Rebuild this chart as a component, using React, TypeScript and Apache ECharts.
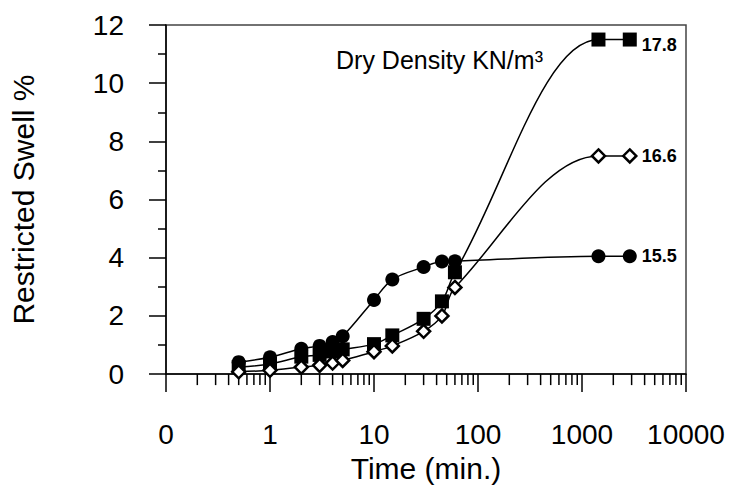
import React, { useEffect, useRef } from "react";
import * as echarts from "echarts";

const times = [0.5, 1, 2, 3, 4, 5, 10, 15, 30, 45, 60, 1440, 2880];
const swell155 = [0.41, 0.58, 0.87, 0.97, 1.1, 1.3, 2.55, 3.25, 3.68, 3.87, 3.88, 4.05, 4.05];
const swell166 = [0.08, 0.13, 0.24, 0.3, 0.38, 0.47, 0.77, 0.97, 1.47, 2.0, 2.98, 7.5, 7.5];
const swell178 = [0.24, 0.35, 0.6, 0.66, 0.78, 0.85, 1.03, 1.33, 1.9, 2.5, 3.5, 11.5, 11.5];
const densityLabels = ["15.5", "16.6", "17.8"];
const xDecades = [0.1, 1, 10, 100, 1000];
const minorMultipliers = [2, 3, 4, 5, 6, 7, 8, 9];

const FONT = "Liberation Sans, Arial, sans-serif";

export default function App() {
  const ref = useRef<HTMLDivElement>(null);
  useEffect(() => {
    document.body.style.margin = "0";
    const chart = echarts.init(ref.current!, null, { renderer: "svg" });
    const pairs = (ys: number[]) => times.map((t, i) => [t, ys[i]]);
    const minorTicks: number[][] = [];
    xDecades.forEach((d) => minorMultipliers.forEach((m) => minorTicks.push([d * m, 0])));

    const endLabelBase = {
      show: true,
      fontFamily: FONT,
      fontWeight: "bold",
      fontSize: 18,
      color: "#000",
      distance: 12,
    };
    const lineBase = {
      type: "line",
      smooth: 0.35,
      lineStyle: { color: "#000", width: 1.5 },
      z: 3,
    };

    chart.setOption({
      animation: false,
      backgroundColor: "#fff",
      textStyle: { fontFamily: FONT },
      title: {
        text: "Dry Density KN/m³",
        left: 331,
        top: 42,
        textStyle: { fontFamily: FONT, fontSize: 25, fontWeight: "normal", color: "#000" },
      },
      grid: {
        left: 164,
        right: 43,
        top: 25,
        bottom: 104,
        show: true,
        borderColor: "#444",
        borderWidth: 1.5,
        backgroundColor: "transparent",
      },
      xAxis: {
        type: "log",
        logBase: 10,
        min: 0.1,
        max: 10000,
        name: "Time (min.)",
        nameLocation: "middle",
        nameGap: 74,
        nameTextStyle: { fontFamily: FONT, fontSize: 30, color: "#000" },
        axisLine: { show: true, lineStyle: { color: "#000", width: 1.5 } },
        axisTick: { show: true, length: 18, lineStyle: { color: "#000", width: 1.5 } },
        minorTick: { show: false },
        splitLine: { show: false },
        axisLabel: {
          margin: 46,
          fontFamily: FONT,
          fontSize: 28,
          color: "#000",
          formatter: (v: number) => (v < 0.5 ? "0" : String(Math.round(v))),
        },
      },
      yAxis: {
        type: "value",
        min: 0,
        max: 12,
        interval: 2,
        name: "Restricted Swell %",
        nameLocation: "middle",
        nameGap: 128,
        nameTextStyle: { fontFamily: FONT, fontSize: 30, color: "#000" },
        axisLine: { show: true, lineStyle: { color: "#000", width: 1.5 } },
        axisTick: { show: true, length: 17, lineStyle: { color: "#000", width: 1.5 } },
        minorTick: { show: true, splitNumber: 2, length: 8, lineStyle: { color: "#000", width: 1.5 } },
        splitLine: { show: false },
        axisLabel: { margin: 42, fontFamily: FONT, fontSize: 28, color: "#000" },
      },
      series: [
        {
          type: "custom",
          silent: true,
          clip: false,
          z: 1,
          data: minorTicks,
          renderItem: (params: any, api: any) => {
            const p = api.coord([api.value(0), api.value(1)]);
            return {
              type: "line",
              shape: { x1: p[0], y1: p[1], x2: p[0], y2: p[1] + 11 },
              style: { stroke: "#000", lineWidth: 1.5 },
            };
          },
        },
        {
          ...lineBase,
          name: densityLabels[0],
          data: pairs(swell155),
          symbol: "circle",
          symbolSize: 14,
          itemStyle: { color: "#000" },
          endLabel: { ...endLabelBase, formatter: densityLabels[0] },
        },
        {
          ...lineBase,
          name: densityLabels[2],
          data: pairs(swell178),
          symbol: "rect",
          symbolSize: 14,
          itemStyle: { color: "#000" },
          endLabel: { ...endLabelBase, formatter: densityLabels[2], offset: [0, 5] },
        },
        {
          ...lineBase,
          name: densityLabels[1],
          data: pairs(swell166),
          symbol: "diamond",
          symbolSize: 13,
          itemStyle: { color: "#fff", borderColor: "#000", borderWidth: 2.5 },
          endLabel: { ...endLabelBase, formatter: densityLabels[1] },
        },
      ],
    });
    return () => chart.dispose();
  }, []);
  return (
    <div
      ref={ref}
      style={{ position: "fixed", left: 0, top: 0, width: 729, height: 488 }}
    />
  );
}
